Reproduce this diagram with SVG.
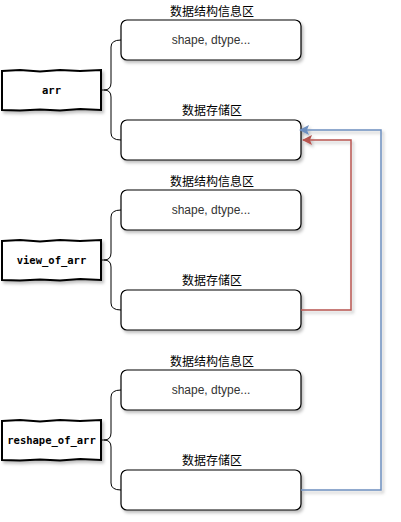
<svg xmlns="http://www.w3.org/2000/svg" width="401" height="522" viewBox="0 0 401 522">
<defs>
<filter id="sh" x="-10%" y="-10%" width="130%" height="140%">
<feDropShadow dx="2" dy="2.5" stdDeviation="1.5" flood-color="#000" flood-opacity="0.25"/>
</filter>
<marker id="ab" viewBox="0 0 10 10" refX="9" refY="5" markerWidth="10" markerHeight="10" orient="auto" markerUnits="userSpaceOnUse">
<path d="M0,0 L10,5 L0,10 L2,5 Z" fill="#6c8ebf"/>
</marker>
<marker id="ar" viewBox="0 0 10 10" refX="9" refY="5" markerWidth="10" markerHeight="10" orient="auto" markerUnits="userSpaceOnUse">
<path d="M0,0 L10,5 L0,10 L2,5 Z" fill="#b85450"/>
</marker>
</defs>
<style>
.box{fill:#fff;stroke:#000;stroke-width:1.2;filter:url(#sh)}
.node{fill:#fff;stroke:#000;stroke-width:2;filter:url(#sh)}
.lbl{font-family:"Noto Sans CJK SC","Liberation Sans",sans-serif;font-size:12px;fill:#000;text-anchor:middle}
.in{font-family:"Liberation Sans",Arial,sans-serif;font-size:12px;fill:#333;text-anchor:middle}
.nt{font-family:"DejaVu Sans Mono",monospace;font-weight:bold;font-size:10.5px;fill:#000;text-anchor:middle}
.brace{fill:none;stroke:#000;stroke-width:1}
</style>
<rect width="401" height="522" fill="#fff"/>
<g id="arr"><path class="node" d="M2,71 L20,70 L40,71.5 L60,70 L80,71 L101,70 L101,110 L80,109 L60,110.5 L40,109.5 L20,110.5 L2,110 Z"/><text class="nt" x="51.5" y="94">arr</text></g>
<g id="view_of_arr"><path class="node" d="M2,241 L20,240 L40,241.5 L60,240 L80,241 L101,240 L101,280 L80,279 L60,280.5 L40,279.5 L20,280.5 L2,280 Z"/><text class="nt" x="51.5" y="264">view_of_arr</text></g>
<g id="reshape_of_arr"><path class="node" d="M2,421 L20,420 L40,421.5 L60,420 L80,421 L101,420 L101,460 L80,459 L60,460.5 L40,459.5 L20,460.5 L2,460 Z"/><text class="nt" x="51.5" y="444">reshape_of_arr</text></g>
<g id="arr_info"><text class="lbl" x="212" y="16">数据结构信息区</text><rect class="box" x="121" y="20" width="180" height="40" rx="6"/><text class="in" x="211" y="44">shape, dtype...</text></g>
<g id="arr_data"><text class="lbl" x="212" y="115">数据存储区</text><rect class="box" x="121" y="120" width="180" height="40" rx="6"/></g>
<g id="view_info"><text class="lbl" x="212" y="186">数据结构信息区</text><rect class="box" x="121" y="190" width="180" height="40" rx="6"/><text class="in" x="211" y="214">shape, dtype...</text></g>
<g id="view_data"><text class="lbl" x="212" y="285">数据存储区</text><rect class="box" x="121" y="290" width="180" height="40" rx="6"/></g>
<g id="reshape_info"><text class="lbl" x="212" y="366">数据结构信息区</text><rect class="box" x="121" y="370" width="180" height="40" rx="6"/><text class="in" x="211" y="394">shape, dtype...</text></g>
<g id="reshape_data"><text class="lbl" x="212" y="465">数据存储区</text><rect class="box" x="121" y="470" width="180" height="40" rx="6"/></g>
<g id="connectors">
<path class="brace" d="M101,90 L104,90 Q111,90 111,83 L111,47 Q111,40 121,40 M104,90 Q111,90 111,97 L111,133 Q111,140 121,140"/>
<path class="brace" d="M101,260 L104,260 Q111,260 111,253 L111,217 Q111,210 121,210 M104,260 Q111,260 111,267 L111,303 Q111,310 121,310"/>
<path class="brace" d="M101,440 L104,440 Q111,440 111,433 L111,397 Q111,390 121,390 M104,440 Q111,440 111,447 L111,483 Q111,490 121,490"/>
<path d="M301,310 L351,310 L351,140 L303,140" fill="none" stroke="#b85450" stroke-width="1.5" marker-end="url(#ar)" filter="url(#sh)"/>
<path d="M301,490 L381,490 L381,130 L300,130" fill="none" stroke="#6c8ebf" stroke-width="1.5" marker-end="url(#ab)" filter="url(#sh)"/>
</g>
</svg>
